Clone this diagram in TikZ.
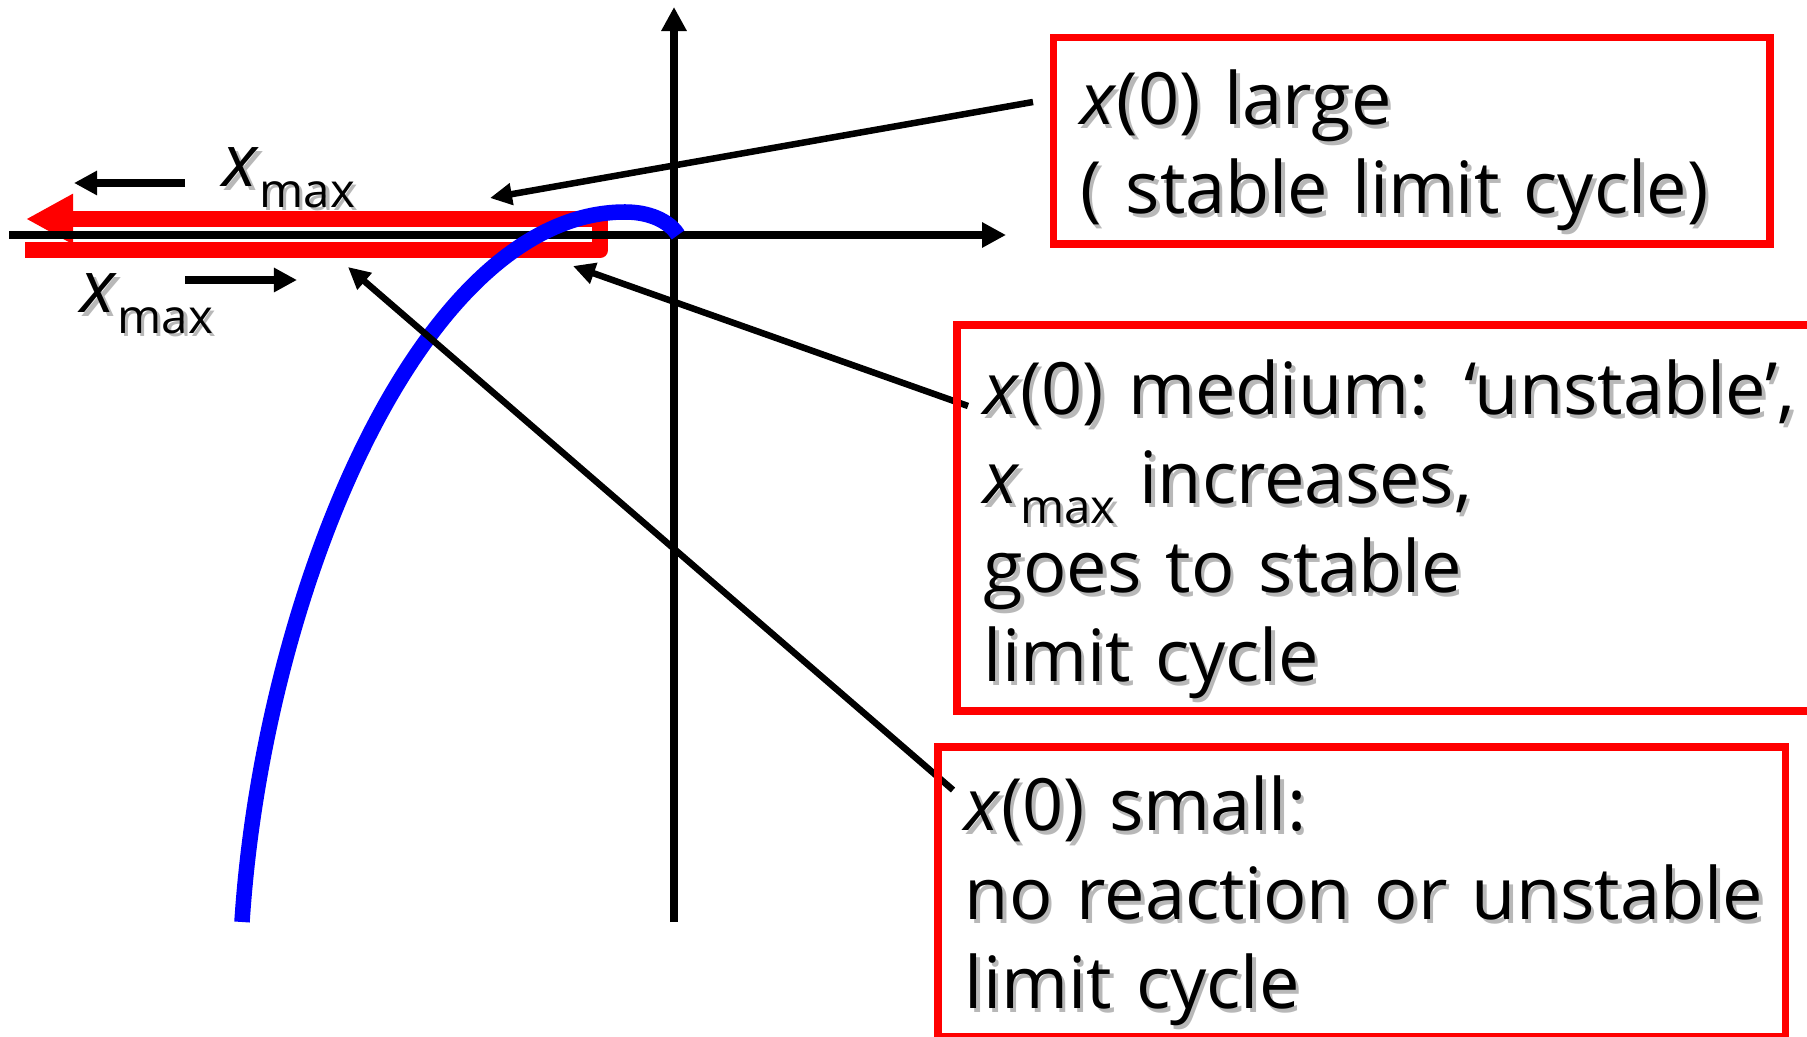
\documentclass[tikz,border=0pt]{standalone}
\usepackage{fontspec}
\setmainfont{Open Sans}
\usetikzlibrary{arrows.meta}
\definecolor{pred}{RGB}{255,0,0}
\definecolor{pblue}{RGB}{0,0,255}
\newcommand\shd[1]{\mbox{\rlap{\hspace{0.035cm}\raisebox{-0.035cm}{\color{black!28}#1}}#1}}
\newcommand\xv{\textit{x}}
\newcommand\xmx{\textit{x}\raisebox{-0.2cm}{\fontsize{13.5pt}{14pt}\selectfont max}}
\newcommand\topst[1]{\rule{0pt}{#1}}
\newcommand\botst[1]{\rule[-#1]{0pt}{#1}}
\begin{document}
\begin{tikzpicture}[x=0.01cm,y=-0.01cm,
  conn/.style={line width=0.065cm, -{Triangle[length=0.22cm,width=0.21cm]}},
  axisln/.style={line width=0.08cm, -{Triangle[length=0.24cm,width=0.24cm]}},
  smallarr/.style={line width=0.075cm, -{Triangle[length=0.23cm,width=0.23cm]}},
  box/.style={draw=pred, line width=0.075cm, anchor=north west, inner xsep=0.27cm, inner ysep=0pt, align=left, font=\fontsize{20.5pt}{25.3pt}\selectfont},
  lbl/.style={inner sep=0pt, anchor=base west, font=\fontsize{20.7pt}{25pt}\selectfont}]
\useasboundingbox (0,0) rectangle (1807,1037);
\clip (0,0) rectangle (1807,1037);
\fill[white] (0,0) rectangle (1807,1037);
% red U-shaped arrow
\draw[pred, line width=0.16cm, line join=round, -{Triangle[length=0.47cm,width=0.47cm]}]
  (25,250.5) -- (600,250.5) -- (600,219) -- (26,219);
% axes
\coordinate (hx0) at (9,235);
\coordinate (hx1) at (1006,235);
\coordinate (vy0) at (674,922);
\coordinate (vy1) at (674,7);
\draw[axisln] (hx0) -- (hx1);
\draw[axisln] (vy0) -- (vy1);
% blue curve
\coordinate (bl0) at (242,922);
\coordinate (blp) at (625,212);
\coordinate (bl1) at (678,235);
\draw[pblue, line width=0.155cm] (bl0) .. controls (263,595) and (420,212) .. (blp)
  .. controls (655,212) and (672,225) .. (bl1);
% small arrows
\coordinate (sa1) at (185,183); \coordinate (sa1e) at (74,183);
\coordinate (sa2) at (185,280); \coordinate (sa2e) at (297,280);
\draw[smallarr] (sa1) -- (sa1e);
\draw[smallarr] (sa2) -- (sa2e);
% labels
\node[lbl] (xm1) at (222,187) {\shd{\xmx}};
\node[lbl] (xm2) at (80,313) {\shd{\xmx}};
% connectors
\coordinate (c1a) at (1033,102); \coordinate (c1b) at (490,198);
\coordinate (c2a) at (968,406); \coordinate (c2b) at (573,266);
\coordinate (c3a) at (953,790); \coordinate (c3b) at (348,267);
\draw[conn] (c1a) -- (c1b);
\draw[conn] (c2a) -- (c2b);
\draw[conn] (c3a) -- (c3b);
% boxes
\node[box, minimum width=7.165cm, minimum height=2.06cm, text width=6.625cm] (b1) at (1049.5,34)
  {\topst{0.87cm}\shd{\xv(0) large}\\ \shd{( stable limit cycle)}\botst{0.30cm}};
\node[box, minimum width=9cm, minimum height=3.86cm, text width=8.46cm] (b2) at (953,321)
  {\topst{0.90cm}\shd{\xv(0) medium: ‘unstable’,}\\ \shd{\xmx{} increases,}\\ \shd{goes to stable}\\ \shd{limit cycle}\botst{0.29cm}};
\node[box, minimum width=8.47cm, minimum height=2.90cm, text width=7.93cm] (b3) at (934,743)
  {\topst{0.84cm}\shd{\xv(0) small:}\\ \shd{no reaction or unstable}\\ \shd{limit cycle}\botst{0.28cm}};
\end{tikzpicture}
\end{document}
